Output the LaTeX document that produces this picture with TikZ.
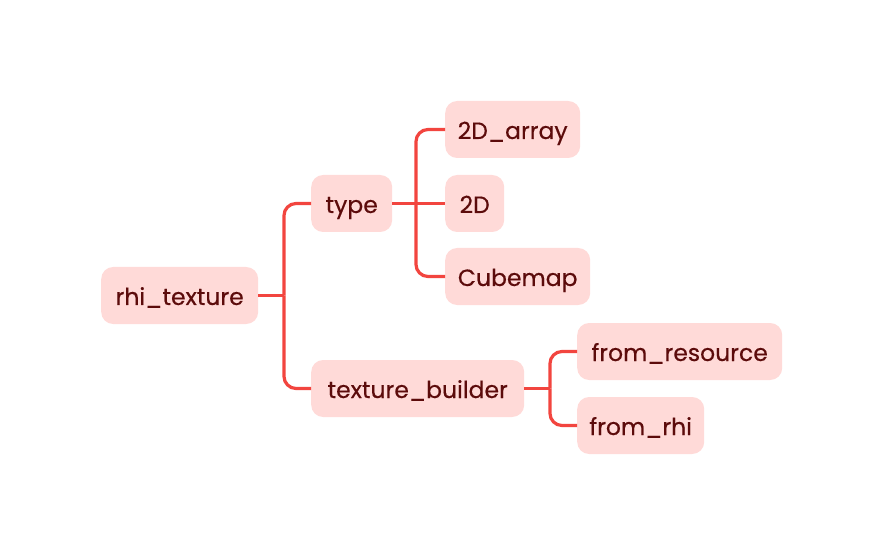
\documentclass[tikz,border=0pt]{standalone}
\usepackage{fontspec}
\setmainfont{Poppins}[FakeBold=0.4]
\usepackage{tikz}
\usetikzlibrary{calc}
\definecolor{ink}{HTML}{5C0B0B}
\definecolor{pale}{HTML}{FFDAD8}
\definecolor{wire}{HTML}{F2453F}
\tikzset{
  box/.style={fill=pale, rounded corners=12pt, minimum height=57pt, inner xsep=12pt,
    text height=21pt, text depth=2pt,
    text=ink, font=\fontsize{23.5}{26}\selectfont, anchor=west},
  link/.style={draw=wire, line width=3.2pt, rounded corners=12pt}
}
\begin{document}
\begin{tikzpicture}[x=1pt,y=-1pt]
  \useasboundingbox (0,0) rectangle (884,556);

  \node[box, minimum width=157pt] (root) at (101,295.5) {rhi\_texture};
  \node[box, minimum width=81pt] (type) at (311,203.5) {type};
  \node[box, minimum width=213pt] (builder) at (311,388.5) {texture\_builder};
  \node[box, minimum width=135pt] (arr) at (445,129.5) {2D\_array};
  \node[box, minimum width=59pt] (twod) at (445,203.5) {2D};
  \node[box, minimum width=145pt] (cube) at (445,276.5) {Cubemap};
  \node[box, minimum width=205pt] (res) at (577,351.5) {from\_resource};
  \node[box, minimum width=127pt] (rhi) at (577,425.5) {from\_rhi};

  \coordinate (J1) at (284,295.5);
  \coordinate (J2) at (416,203.5);
  \coordinate (J3) at (550,388.5);

  \draw[link] (root.east) -- (J1);
  \draw[link] (J1) |- (type.west);
  \draw[link] (J1) |- (builder.west);

  \draw[link] (type.east) -- (twod.west);
  \draw[link] (J2) |- (arr.west);
  \draw[link] (J2) |- (cube.west);

  \draw[link] (builder.east) -- (J3);
  \draw[link] (J3) |- (res.west);
  \draw[link] (J3) |- (rhi.west);
\end{tikzpicture}
\end{document}
